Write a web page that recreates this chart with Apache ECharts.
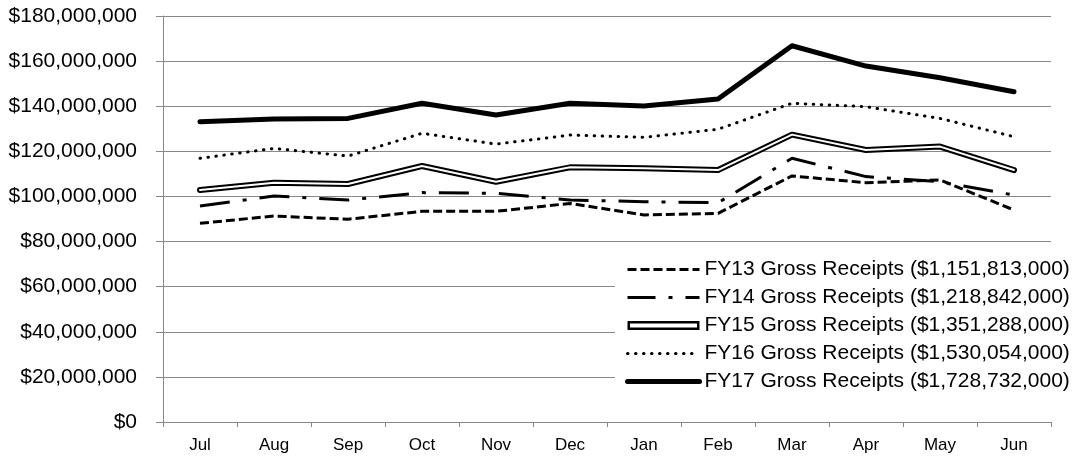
<!DOCTYPE html>
<html>
<head>
<meta charset="utf-8">
<script src="https://cdn.jsdelivr.net/npm/echarts@6/dist/echarts.min.js"></script>
<style>
html,body{margin:0;padding:0;background:#fff;}
#c{width:1076px;height:457px;}
</style>
</head>
<body>
<div id="c"></div>
<script>
const months = ['Jul','Aug','Sep','Oct','Nov','Dec','Jan','Feb','Mar','Apr','May','Jun'];
const seriesNames = [
  'FY13 Gross Receipts ($1,151,813,000)',
  'FY14 Gross Receipts ($1,218,842,000)',
  'FY15 Gross Receipts ($1,351,288,000)',
  'FY16 Gross Receipts ($1,530,054,000)',
  'FY17 Gross Receipts ($1,728,732,000)'
];
const fy13 = [88100000, 91300000, 89900000, 93400000, 93400000, 96900000, 91800000, 92500000, 109100000, 106100000, 107300000, 94000000];
const fy14 = [95800000, 100200000, 98400000, 101700000, 101400000, 98400000, 97700000, 97200000, 116900000, 108800000, 106500000, 100600000];
const fy15 = [102900000, 106100000, 105500000, 113500000, 106500000, 112900000, 112500000, 111700000, 127400000, 120600000, 122100000, 111700000];
const fy16 = [116900000, 121300000, 117900000, 128000000, 123200000, 127200000, 126200000, 129800000, 141300000, 139800000, 134600000, 126500000];
const fy17 = [133100000, 134300000, 134600000, 141300000, 136100000, 141300000, 140100000, 143200000, 166800000, 157800000, 152600000, 146400000];
const yMin = 0, yMax = 180000000, yStep = 20000000;

const FONT = "'Liberation Sans', Arial, sans-serif";
const chart = echarts.init(document.getElementById('c'), null, {renderer: 'canvas'});
const option = {
  animation: false,
  backgroundColor: '#fff',
  grid: {left: 163, right: 25, top: 16, bottom: 35, containLabel: false},
  legend: {
    orient: 'vertical',
    left: 615,
    top: 255,
    padding: [4, 4, 6, 10],
    backgroundColor: '#fff',
    itemWidth: 72,
    itemHeight: 14,
    itemGap: 7,
    selectedMode: false,
    itemStyle: {opacity: 0},
    textStyle: {fontFamily: FONT, fontSize: 21, color: '#000', lineHeight: 20},
    data: [
      {name: seriesNames[0], lineStyle: {width: 3, type: [9, 4]}},
      {name: seriesNames[1], lineStyle: {width: 3, type: [28, 13, 4, 13]}},
      {name: seriesNames[2], icon: 'path://M0,0 H72 V9 H0 Z M2.5,2.5 V6.5 H69.5 V2.5 Z', itemStyle: {color: '#000', opacity: 1}},
      {name: seriesNames[3], lineStyle: {width: 3, type: [0.5, 7.5], cap: 'round'}},
      {name: seriesNames[4], lineStyle: {width: 5}}
    ]
  },
  xAxis: {
    type: 'category',
    data: months,
    boundaryGap: true,
    axisLine: {lineStyle: {color: '#888', width: 1}},
    axisTick: {show: true, alignWithLabel: false, length: 5, lineStyle: {color: '#888'}},
    axisLabel: {fontFamily: FONT, fontSize: 17, color: '#000', margin: 15}
  },
  yAxis: {
    type: 'value',
    min: yMin, max: yMax, interval: yStep,
    axisLine: {show: true, lineStyle: {color: '#888', width: 1}},
    axisTick: {show: true, length: 7, lineStyle: {color: '#888'}},
    splitLine: {show: true, lineStyle: {color: '#888', width: 1}},
    axisLabel: {
      fontFamily: FONT, fontSize: 21, color: '#000', margin: 26,
      formatter: v => '$' + v.toLocaleString('en-US')
    }
  },
  series: [
    {name: seriesNames[0], type: 'line', data: fy13, symbol: 'none', color: '#000',
     lineStyle: {color: '#000', width: 3, type: [9, 4]}},
    {name: seriesNames[1], type: 'line', data: fy14, symbol: 'none', color: '#000',
     lineStyle: {color: '#000', width: 3, type: [30, 13, 4, 13]}},
    {name: seriesNames[2], type: 'line', data: fy15, symbol: 'none', color: '#000',
     lineStyle: {color: '#000', width: 6, cap: 'round', join: 'round'}},
    {name: 'FY15 inner', type: 'line', data: fy15, symbol: 'none', silent: true, color: '#fff',
     lineStyle: {color: '#fff', width: 2, cap: 'round', join: 'round'}},
    {name: seriesNames[3], type: 'line', data: fy16, symbol: 'none', color: '#000',
     lineStyle: {color: '#000', width: 3, type: [0.5, 7.5], cap: 'round'}},
    {name: seriesNames[4], type: 'line', data: fy17, symbol: 'none', color: '#000',
     lineStyle: {color: '#000', width: 5, cap: 'round', join: 'round'}}
  ]
};
chart.setOption(option);
</script>
</body>
</html>
